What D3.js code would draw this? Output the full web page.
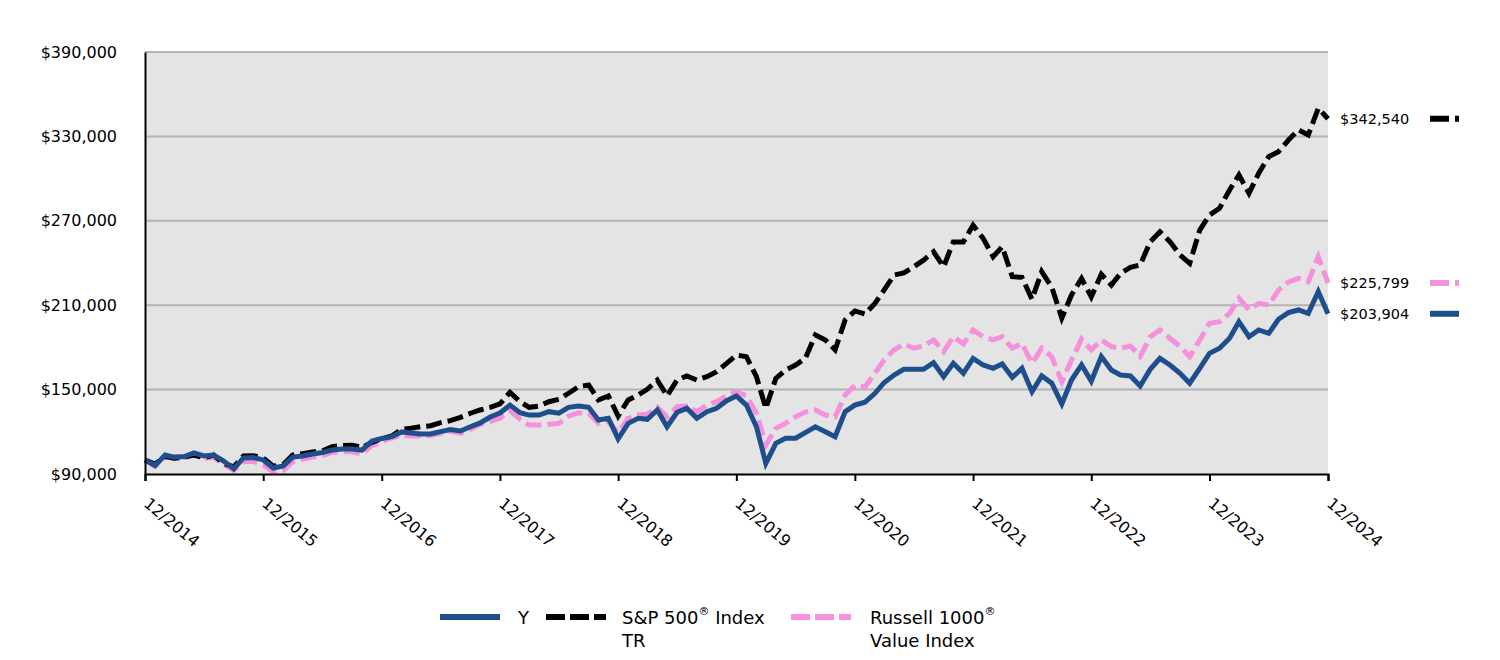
<!DOCTYPE html>
<html>
<head>
<meta charset="utf-8">
<script src="https://d3js.org/d3.v7.min.js"></script>
<style>
  html, body { margin: 0; padding: 0; background: #fff; }
  svg { display: block; font-family: "DejaVu Sans", sans-serif; }
</style>
</head>
<body>
<svg id="chart" width="1500" height="660"></svg>
<script>
// Growth of $100,000, monthly from 12/2014 to 12/2024
const fundY = [
  100000, 95900, 103500, 102000, 102400, 105000, 102800, 103500, 99200, 93600, 101400, 101700,
  100000, 94300, 95700, 102000, 102800, 104200, 105300, 107000, 107800, 107800, 107000, 113500,
  115200, 116500, 119900, 119100, 118400, 118400, 120100, 121600, 120600, 123600, 126300, 130500,
  133400, 139000, 133600, 131900, 131900, 134300, 133200, 137400, 138300, 137400, 128400, 129600,
  115000, 126000, 129600, 128900, 135500, 123600, 133900, 136700, 129600, 134300, 136700, 142100,
  145500, 139000, 123600, 97600, 111800, 115400, 115400, 119400, 123600, 120100, 116500, 134300,
  139000, 141000, 147400, 154900, 160400, 164400, 164400, 164400, 169100, 159200, 168700, 161600,
  172200, 167500, 165100, 168200, 158700, 165100, 148500, 159700, 154500, 139800, 156800, 167500,
  156000, 173500, 163900, 160400, 159700, 152600, 164400, 172200, 167500, 161600, 154500, 165100,
  175800, 179400, 186500, 198300, 187600, 192400, 190000, 200000, 204700, 206600, 204200, 219600,
  203904
];

const sp500 = [
  100000, 97000, 102500, 101200, 102000, 103500, 101500, 103500, 97500, 95000, 102800, 103000,
  101400, 95500, 96800, 103500, 104500, 105600, 106500, 109500, 110300, 110500, 108800, 112500,
  115200, 117000, 121800, 122500, 123600, 124300, 126500, 127900, 130300, 133200, 135500, 137400,
  139800, 148100, 141400, 137400, 138300, 141400, 143100, 147400, 152100, 153300, 142600, 145500,
  131200, 142600, 146200, 150200, 156800, 145500, 156800, 159700, 156800, 159200, 162700, 168700,
  174600, 173400, 159200, 136700, 158000, 163900, 167500, 172200, 188800, 185300, 178200, 199500,
  205900, 203700, 211300, 220700, 231400, 233000, 237300, 242000, 248000, 237300, 255000, 255000,
  266900, 257500, 244500, 251600, 230300, 229800, 214200, 233900, 222800, 200800, 217300, 229000,
  216000, 232000, 224300, 232600, 236900, 238600, 255100, 262200, 255100, 245700, 239800, 263400,
  274100, 278900, 291900, 302600, 289500, 303800, 315600, 319100, 327400, 334600, 331000, 350000,
  342540
];

const russell1000Value = [
  100000, 95500, 102000, 101000, 101500, 103300, 101200, 101700, 96800, 92500, 98800, 99000,
  96500, 91500, 92500, 98800, 100500, 102000, 103000, 105300, 106000, 105800, 104200, 110300,
  113000, 115600, 117700, 117000, 117000, 117400, 118900, 120600, 118900, 121800, 125300, 127200,
  129600, 135000, 128900, 124800, 124800, 125300, 126000, 131200, 133600, 133200, 126000, 127200,
  119500, 129600, 132000, 132400, 137400, 130700, 137800, 138300, 134300, 139000, 141400, 145500,
  148500, 145500, 133300, 110600, 122500, 126000, 130700, 134000, 135500, 131900, 130700, 146200,
  153000, 151800, 161600, 171000, 178200, 182400, 179400, 181000, 185300, 177000, 187600, 182400,
  192400, 187600, 185300, 187600, 179400, 182900, 168700, 179400, 173400, 155600, 171000, 186000,
  178200, 185300, 180600, 179400, 181000, 173400, 187600, 192400, 186500, 180600, 173400, 185300,
  197100, 198300, 204200, 214900, 206600, 211300, 210100, 220700, 226600, 229000, 226600, 244500,
  225799
];

const xTickLabels = ["12/2014", "12/2015", "12/2016", "12/2017", "12/2018", "12/2019",
  "12/2020", "12/2021", "12/2022", "12/2023", "12/2024"];
const yTickValues = [90000, 150000, 210000, 270000, 330000, 390000];

const series = [
  { key: "russell", name: ["Russell 1000", "Value Index"], values: russell1000Value, color: "#f590dc", dash: "16,6" },
  { key: "sp500", name: ["S&P 500", "TR"], values: sp500, color: "#000000", dash: "16,6" },
  { key: "y", name: ["Y"], values: fundY, color: "#1f4e8c", dash: null },
];

const margin = { top: 52, left: 145, right: 172, bottom: 186 };
const width = 1500, height = 660;
const innerW = width - margin.left - margin.right;
const innerH = height - margin.top - margin.bottom;

const start = new Date(2014, 11, 1);
const months = d3.range(fundY.length).map((i) => d3.timeMonth.offset(start, i));

const x = d3.scaleTime().domain([months[0], months[months.length - 1]]).range([0, innerW]);
const y = d3.scaleLinear().domain([90000, 390000]).range([innerH, 0]);

const svg = d3.select("#chart");
const g = svg.append("g").attr("transform", `translate(${margin.left},${margin.top})`);

// plot background
g.append("rect").attr("width", innerW).attr("height", innerH).attr("fill", "#e4e4e4");

// gridlines
g.append("g")
  .selectAll("line")
  .data(yTickValues.slice(1))
  .join("line")
  .attr("x1", 0).attr("x2", innerW)
  .attr("y1", (d) => y(d)).attr("y2", (d) => y(d))
  .attr("stroke", "#b4b4b4").attr("stroke-width", 2);

// lines
const line = d3.line().x((d, i) => x(months[i])).y((d) => y(d));
g.append("g")
  .selectAll("path")
  .data(series)
  .join("path")
  .attr("d", (s) => line(s.values))
  .attr("fill", "none")
  .attr("stroke", (s) => s.color)
  .attr("stroke-width", 5)
  .attr("stroke-dasharray", (s) => s.dash);

// y axis
const yAxis = g.append("g")
  .call(d3.axisLeft(y).tickValues(yTickValues).tickSize(0).tickPadding(28)
    .tickFormat((d) => "$" + d3.format(",")(d)));
yAxis.select(".domain").attr("stroke", "#000").attr("stroke-width", 2);
yAxis.selectAll("text").attr("font-size", 16).attr("fill", "#000").attr("font-family", "DejaVu Sans");

// x axis
const xTickDates = xTickLabels.map((d, i) => d3.timeMonth.offset(start, i * 12));
const xAxis = g.append("g")
  .attr("transform", `translate(0,${innerH})`)
  .call(d3.axisBottom(x).tickValues(xTickDates).tickSize(7).tickFormat((d, i) => xTickLabels[i]));
xAxis.select(".domain").attr("stroke", "#000").attr("stroke-width", 2);
xAxis.selectAll(".tick line").attr("stroke", "#000").attr("stroke-width", 2);
xAxis.selectAll("text")
  .attr("font-size", 16).attr("fill", "#000").attr("font-family", "DejaVu Sans")
  .attr("text-anchor", "start")
  .attr("x", 0).attr("y", 0).attr("dy", "0.75em")
  .attr("transform", "translate(5,22) rotate(40)");

// end value labels
const fmtEnd = (v) => "$" + d3.format(",")(v);
const endG = svg.append("g");
series.forEach((s) => {
  const last = s.values[s.values.length - 1];
  const yy = margin.top + y(last);
  endG.append("text")
    .attr("x", 1340).attr("y", yy).attr("dy", "0.35em")
    .attr("font-size", 14.5).attr("fill", "#000")
    .text(fmtEnd(last));
  endG.append("line")
    .attr("x1", 1430).attr("x2", 1459).attr("y1", yy).attr("y2", yy)
    .attr("stroke", s.color).attr("stroke-width", 6)
    .attr("stroke-dasharray", s.dash ? "19,6" : null);
});

// bottom legend
const legendItems = [
  { s: series[2], x: 440, tx: 518 },
  { s: series[1], x: 546, tx: 622 },
  { s: series[0], x: 791, tx: 870 },
];
const legend = svg.append("g");
legendItems.forEach(({ s, x: lx, tx }) => {
  legend.append("line")
    .attr("x1", lx).attr("x2", lx + 60).attr("y1", 617).attr("y2", 617)
    .attr("stroke", s.color).attr("stroke-width", 6)
    .attr("stroke-dasharray", s.dash ? "19,5" : null);
  const t = legend.append("text").attr("x", tx).attr("y", 624).attr("font-size", 18).attr("fill", "#000");
  t.append("tspan").text(s.name[0]);
  if (s.name.length > 1) {
    t.append("tspan").attr("font-size", 11).attr("dy", "-0.8em").text("®");
    t.append("tspan").attr("dy", "0.5em").text(s.key === "sp500" ? " Index" : "");
    t.append("tspan").attr("x", tx).attr("y", 647).text(s.name[1]);
  }
});
</script>
</body>
</html>
